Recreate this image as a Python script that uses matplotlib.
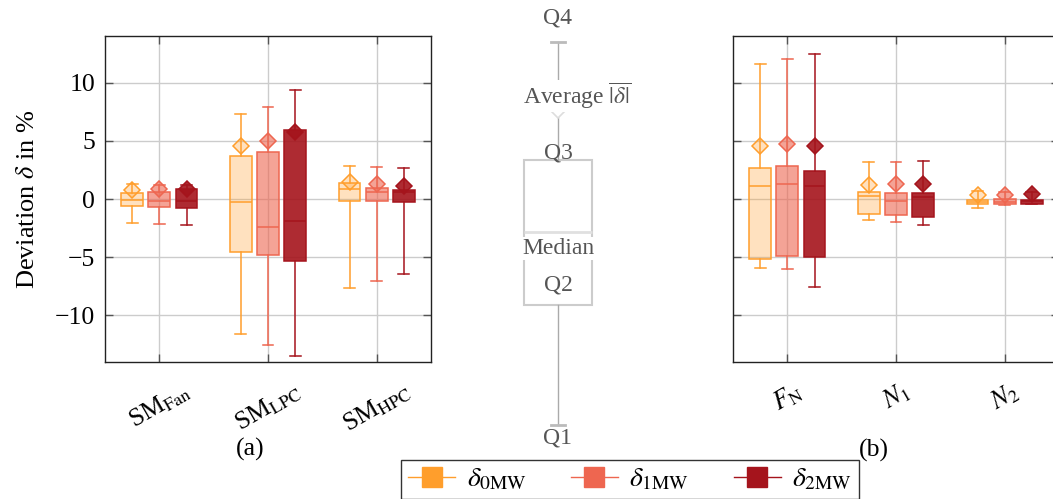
import matplotlib
matplotlib.use("Agg")
import matplotlib.pyplot as plt
from matplotlib.lines import Line2D
from matplotlib.colors import to_rgba

plt.rcParams['font.family'] = ['Liberation Serif', 'DejaVu Serif']
plt.rcParams['mathtext.fontset'] = 'stix'

# series colours and legend labels
colors = ['#FF9E2C', '#EE6650', '#A5141C']
fill_alpha = [0.3, 0.6, 0.9]
series_labels = [r'$\delta_{\mathrm{0MW}}$', r'$\delta_{\mathrm{1MW}}$', r'$\delta_{\mathrm{2MW}}$']

# (a) surge margins, rows = delta_0MW, delta_1MW, delta_2MW
sm_labels = [r'SM$_{\mathrm{Fan}}$', r'SM$_{\mathrm{LPC}}$', r'SM$_{\mathrm{HPC}}$']
sm_whislo = [[-2.06, -11.6, -7.62], [-2.15, -12.52, -7.05], [-2.27, -13.46, -6.45]]
sm_q1 = [[-0.63, -4.55, -0.17], [-0.72, -4.81, -0.17], [-0.80, -5.33, -0.26]]
sm_med = [[-0.06, -0.23, 0.86], [-0.15, -2.41, 0.63], [-0.15, -1.92, 0.60]]
sm_q3 = [[0.51, 3.69, 1.34], [0.60, 4.03, 0.97], [0.83, 5.90, 0.77]]
sm_whishi = [[1.29, 7.30, 2.86], [1.17, 7.90, 2.75], [1.20, 9.39, 2.63]]
sm_mean = [[0.77, 4.52, 1.43], [0.83, 5.00, 1.26], [0.88, 5.72, 1.14]]

# (b) thrust and spool speeds
pf_labels = [r'$F_{\mathrm{N}}$', r'$N_1$', r'$N_2$']
pf_whislo = [[-5.93, -1.78, -0.80], [-5.99, -1.98, -0.48], [-7.53, -2.21, -0.40]]
pf_q1 = [[-5.13, -1.29, -0.46], [-4.93, -1.41, -0.46], [-5.01, -1.52, -0.40]]
pf_med = [[1.14, 0.28, -0.23], [1.31, -0.20, -0.26], [1.12, 0.17, -0.14]]
pf_q3 = [[2.63, 0.60, -0.06], [2.86, 0.54, -0.04], [2.43, 0.52, -0.06]]
pf_whishi = [[11.62, 3.18, 0.66], [12.03, 3.21, 0.60], [12.48, 3.26, 0.60]]
pf_mean = [[4.58, 1.23, 0.37], [4.75, 1.29, 0.34], [4.58, 1.29, 0.40]]

# schematic key box (axes fraction of figure height)
key_stats = dict(whislo=0.148, q1=0.389, med=0.535, q3=0.679, whishi=0.916, mean=0.780)

offsets = [-0.25, 0.0, 0.25]
box_width = 0.2
fs = 18.5

fig = plt.figure(figsize=(10.53, 4.99), dpi=100)
ax_a = fig.add_axes([105 / 1053, 1 - 362 / 499, 326 / 1053, 326 / 499])
ax_b = fig.add_axes([733 / 1053, 1 - 362 / 499, 326 / 1053, 326 / 499])
ax_k = fig.add_axes([480 / 1053, 0, 160 / 1053, 1])


def draw_panel(ax, labels, whislo, q1, med, q3, whishi, mean):
    for s in range(3):
        stats = []
        for c in range(3):
            stats.append(dict(whislo=whislo[s][c], q1=q1[s][c], med=med[s][c],
                              q3=q3[s][c], whishi=whishi[s][c], mean=mean[s][c]))
        col = colors[s]
        face = to_rgba(col, fill_alpha[s])
        pos = [c + 1 + offsets[s] for c in range(3)]
        ax.bxp(stats, positions=pos, widths=box_width, patch_artist=True,
               showmeans=True, showfliers=False, manage_ticks=False,
               boxprops=dict(facecolor=face, edgecolor=col, linewidth=1.1),
               medianprops=dict(color=col, linewidth=1.1),
               whiskerprops=dict(color=col, linewidth=1.1),
               capprops=dict(color=col, linewidth=1.1),
               meanprops=dict(marker='D', markersize=8, markerfacecolor=face,
                              markeredgecolor=col, markeredgewidth=1.1))
    ax.set_xlim(0.5, 3.5)
    ax.set_ylim(-14, 14)
    ax.set_xticks([1, 2, 3])
    ax.set_xticklabels(labels, rotation=30, ha='center', fontsize=fs + 0.5)
    ax.set_yticks([-10, -5, 0, 5, 10])
    ax.grid(True, color='#cccccc', linewidth=1.0)
    ax.set_axisbelow(True)
    ax.tick_params(direction='in', length=6, width=1.0, color='#555555',
                   top=True, right=True, labelsize=fs, pad=7)
    ax.tick_params(axis='x', pad=12)
    for sp in ax.spines.values():
        sp.set_linewidth(1.0)
        sp.set_color('#222222')


draw_panel(ax_a, sm_labels, sm_whislo, sm_q1, sm_med, sm_q3, sm_whishi, sm_mean)
draw_panel(ax_b, pf_labels, pf_whislo, pf_q1, pf_med, pf_q3, pf_whishi, pf_mean)
ax_b.tick_params(labelleft=False)

fig.text(28 / 1053, 1 - 199 / 499, r'Deviation $\delta$ in %', rotation=90,
         ha='center', va='center', fontsize=fs + 0.5)
fig.text(250 / 1053, 1 - 449 / 499, '(a)', ha='center', va='center', fontsize=fs)
fig.text(874 / 1053, 1 - 450 / 499, '(b)', ha='center', va='center', fontsize=fs)

# key explaining the box elements
ax_k.set_xlim(0, 160)
ax_k.set_ylim(0, 1)
ax_k.axis('off')
kg = '#cccccc'
ax_k.bxp([key_stats], positions=[78], widths=68, patch_artist=True,
         showmeans=True, showfliers=False, manage_ticks=False, capwidths=[14],
         boxprops=dict(facecolor='white', edgecolor=kg, linewidth=1.5),
         medianprops=dict(color='#e0e0e0', linewidth=2.0),
         whiskerprops=dict(color='#aaaaaa', linewidth=1.0),
         capprops=dict(color='#bbbbbb', linewidth=2.0),
         meanprops=dict(marker='D', markersize=8, markerfacecolor='white',
                        markeredgecolor='#dddddd', markeredgewidth=1.2))
tc = '#555555'
kfs = 17
bb = dict(facecolor='white', edgecolor='none', pad=0.5)
ax_k.annotate('Q4', (78, key_stats['whishi']), xytext=(0, 17), textcoords='offset points',
              ha='center', va='center', fontsize=kfs, color=tc)
ax_k.annotate(r'Average $\overline{|\delta|}$', (78, key_stats['mean']), xytext=(14, 10),
              textcoords='offset points', ha='center', va='center', fontsize=kfs,
              color=tc, bbox=bb)
ax_k.annotate('Q3', (78, key_stats['q3']), xytext=(0, 5), textcoords='offset points',
              ha='center', va='center', fontsize=kfs, color=tc)
ax_k.annotate('Median', (78, key_stats['med']), xytext=(0, -12), textcoords='offset points',
              ha='center', va='center', fontsize=kfs, color=tc, bbox=bb)
ax_k.annotate('Q2', (78, key_stats['q1']), xytext=(0, 14), textcoords='offset points',
              ha='center', va='center', fontsize=kfs, color=tc, bbox=bb)
ax_k.annotate('Q1', (78, key_stats['whislo']), xytext=(0, -9), textcoords='offset points',
              ha='center', va='center', fontsize=kfs, color=tc)

handles = [Line2D([], [], color=c, marker='s', markersize=14, markerfacecolor=c,
                  markeredgecolor=c, linewidth=1.0) for c in colors]
fig.legend(handles, series_labels, loc='upper center', ncol=3,
           bbox_to_anchor=(630 / 1053, 1 - 460 / 499), borderaxespad=0, fontsize=20,
           frameon=True, fancybox=False, edgecolor='#333333', framealpha=1,
           handlelength=1.7, handletextpad=0.4, columnspacing=1.6, borderpad=0.25)

fig.savefig('out.png', dpi=100)
